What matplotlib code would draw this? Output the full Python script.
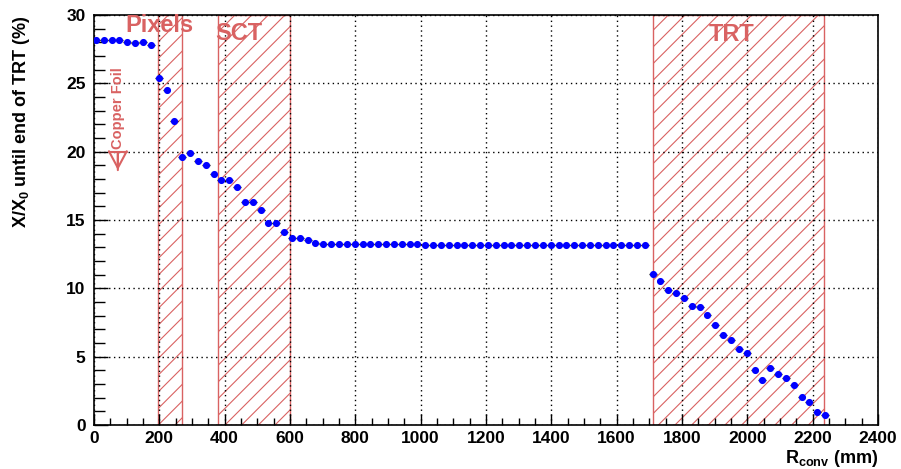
import numpy as np
import matplotlib
matplotlib.use('Agg')
import matplotlib.pyplot as plt
from matplotlib.patches import Rectangle
from matplotlib.ticker import MultipleLocator

plt.rcParams['font.family'] = ['Liberation Sans', 'DejaVu Sans']
plt.rcParams['font.weight'] = 'bold'
plt.rcParams['mathtext.fontset'] = 'custom'
plt.rcParams['mathtext.rm'] = 'Liberation Sans:bold'
plt.rcParams['mathtext.bf'] = 'Liberation Sans:bold'
plt.rcParams['hatch.linewidth'] = 0.8

# ---------------- data ----------------
BIN_START = 6      # mm, position of first bin marker
BIN_WIDTH = 24     # mm
x0_percent = [
    28.15, 28.15, 28.15, 28.15, 28.05, 27.95, 28.05, 27.80,
    25.40, 24.50, 22.25, 19.60, 19.90, 19.30, 19.00, 18.40, 17.90, 17.90,
    17.40, 16.35, 16.35, 15.70, 14.75, 14.75, 14.10, 13.65, 13.65, 13.50,
    13.35, 13.25, 13.25,
    13.25, 13.25, 13.25, 13.25, 13.25, 13.25, 13.25, 13.25, 13.25, 13.25, 13.25,
    13.15, 13.15, 13.15, 13.15, 13.15, 13.15, 13.15, 13.15, 13.15, 13.15,
    13.15, 13.15, 13.15, 13.15, 13.15, 13.15, 13.15, 13.15, 13.15, 13.15,
    13.15, 13.15, 13.15, 13.15, 13.15, 13.15, 13.15, 13.15, 13.15,
    11.05, 10.55, 9.85, 9.65, 9.30, 8.70, 8.60, 8.05, 7.30, 6.60, 6.20,
    5.55, 5.30, 4.05, 3.30, 4.20, 3.70, 3.45, 2.95, 2.05, 1.65, 0.95, 0.70,
]
r_conv = BIN_START + BIN_WIDTH * np.arange(len(x0_percent))

region_names = ['Pixels', 'SCT', 'TRT']
region_lo = [196, 380, 1710]
region_hi = [270, 600, 2235]
label_r = [200, 444, 1952]
label_y = [28.75, 28.15, 28.07]

foil_r = 73
foil_text_y = 23.2
foil_arrow_top = 19.97
foil_arrow_tip = 18.65

x_ticks = list(range(0, 2401, 200))
y_ticks = list(range(0, 31, 5))

RED = '#d96262'

# ---------------- figure ----------------
fig = plt.figure(figsize=(9.01, 4.69), dpi=100)
ax = fig.add_axes([94/901, 1-425/469, 784/901, 410/469])

for lo, hi in zip(region_lo, region_hi):
    ax.add_patch(Rectangle((lo, 0), hi - lo, 30, facecolor='none',
                           edgecolor=RED, hatch='//', lw=1.0, zorder=1))

for name, rx, ry in zip(region_names, label_r, label_y):
    ax.text(rx, ry, name, color=RED, fontsize=17, fontweight='bold',
            ha='center', va='baseline', zorder=4)

ax.text(foil_r, foil_text_y, 'Copper Foil', color=RED, fontsize=10.5,
        fontweight='bold', rotation=90, ha='center', va='center')
ax.annotate('', xy=(foil_r, foil_arrow_tip), xytext=(foil_r, foil_arrow_top),
            arrowprops=dict(arrowstyle='->, head_length=0.6, head_width=0.32',
                            color=RED, lw=1.5, mutation_scale=20,
                            shrinkA=0, shrinkB=0))
ax.annotate('', xy=(foil_r, foil_arrow_tip), xytext=(foil_r, foil_arrow_top),
            arrowprops=dict(arrowstyle=']-, widthA=0.32, lengthA=0',
                            color=RED, lw=1.5, mutation_scale=20,
                            shrinkA=0, shrinkB=0))

ax.errorbar(r_conv, x0_percent, xerr=BIN_WIDTH/2, fmt='o', color='#0000ff',
            markersize=4.1, ecolor='black', elinewidth=1.0, capsize=0,
            zorder=5)

ax.set_xlim(0, 2400)
ax.set_ylim(0, 30)
ax.set_xticks(x_ticks)
ax.set_yticks(y_ticks)
ax.xaxis.set_minor_locator(MultipleLocator(50))
ax.yaxis.set_minor_locator(MultipleLocator(1))
ax.tick_params(axis='both', which='both', direction='in', top=False, right=False,
               labelsize=12.5, width=1.0)
ax.tick_params(axis='y', which='major', length=10, pad=6)
ax.tick_params(axis='y', which='minor', length=8)
ax.tick_params(axis='x', which='major', length=8, pad=4)
ax.tick_params(axis='x', which='minor', length=5)
for lab in ax.get_xticklabels() + ax.get_yticklabels():
    lab.set_fontweight('bold')

ax.grid(True, which='major', color='black', linestyle=(0, (1, 2.5)), lw=1.0)
ax.set_axisbelow(False)
for s in ax.spines.values():
    s.set_linewidth(1.2)

ax.set_ylabel(r'X/X$_\mathrm{0}$ until end of TRT (%)', loc='top',
              fontsize=13, fontweight='bold')
ax.yaxis.set_label_coords(-0.079, 1.0)
ax.set_xlabel(r'R$_\mathrm{conv}$ (mm)', loc='right', fontsize=13,
              fontweight='bold')
ax.xaxis.set_label_coords(1.0, -0.056)

fig.savefig('out.png', dpi=100)
